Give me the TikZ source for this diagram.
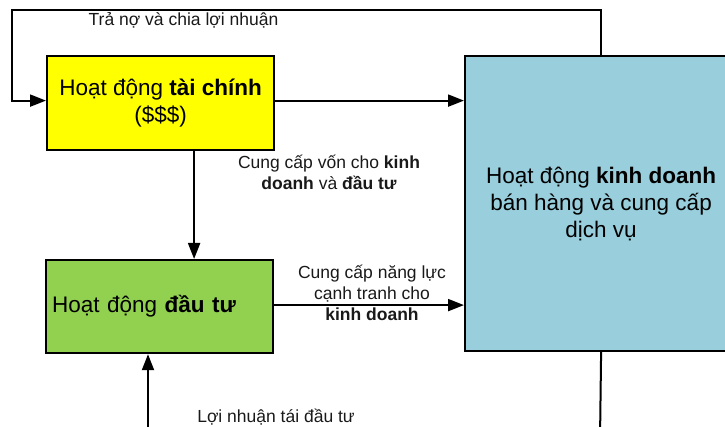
\documentclass[tikz,border=0pt]{standalone}
\usepackage{fontspec}
\setmainfont{Liberation Sans}
\usetikzlibrary{arrows.meta}
\definecolor{finyellow}{HTML}{FFFF00}
\definecolor{invgreen}{HTML}{92D050}
\definecolor{bizblue}{HTML}{99CEDC}
\tikzset{
  boxnode/.style={draw=black, line width=2.2pt, anchor=north west, inner sep=0pt,
    font=\fontsize{22.5}{27}\selectfont, align=center},
  conn/.style={line width=2pt, draw=black},
  arr/.style={conn, -{Triangle[length=16pt,width=12pt]}},
  lbl/.style={font=\fontsize{17.5}{21}\selectfont, align=center, inner sep=0pt, text=black!90}
}
\begin{document}
\begin{tikzpicture}[x=1pt,y=-1pt]
\useasboundingbox (0,0) rectangle (725,427);
% boxes
\node[boxnode, fill=finyellow, minimum width=227pt, minimum height=94pt] (fin) at (46,55)
  {Hoạt động \textbf{tài chính}\\(\$\$\$)};
\node[boxnode, fill=invgreen, minimum width=227pt, minimum height=93pt,
  text width=215pt, align=left, inner xsep=6pt] (inv) at (45,259)
  {Hoạt động \textbf{đầu tư}};
\node[boxnode, fill=bizblue, minimum width=272pt, minimum height=295pt] (biz) at (464,55)
  {Hoạt động \textbf{kinh doanh}\\bán hàng và cung cấp\\dịch vụ};
% coordinates for free ends
\coordinate (tl) at (12,10);
\coordinate (bot) at (148,440);
\coordinate (botr) at (600,440);
% connectors
\draw[arr] (biz.north) |- (tl) |- ([yshift=2.5]fin.west);
\draw[arr] ([yshift=2.5]fin.east) -- ([yshift=2.5]fin.east -| biz.west);
\draw[arr] ([xshift=33.5]fin.south) -- ([xshift=33.5]fin.south |- inv.north);
\draw[arr] ([yshift=1.5]inv.east) -- ([yshift=1.5]inv.east -| biz.west);
\draw[conn] (biz.south) -- (botr);
\draw[arr] (bot) -- (bot |- inv.south);
% labels
\node[lbl] (l1) at (183.5,20) {Trả nợ và chia lợi nhuận};
\node[lbl] (l2) at (329,172) {Cung cấp vốn cho \textbf{kinh}\\\textbf{doanh} và \textbf{đầu tư}};
\node[lbl] (l3) at (372,293) {Cung cấp năng lực\\cạnh tranh cho\\\textbf{kinh doanh}};
\node[lbl] (l4) at (276,417) {Lợi nhuận tái đầu tư};
\end{tikzpicture}
\end{document}
